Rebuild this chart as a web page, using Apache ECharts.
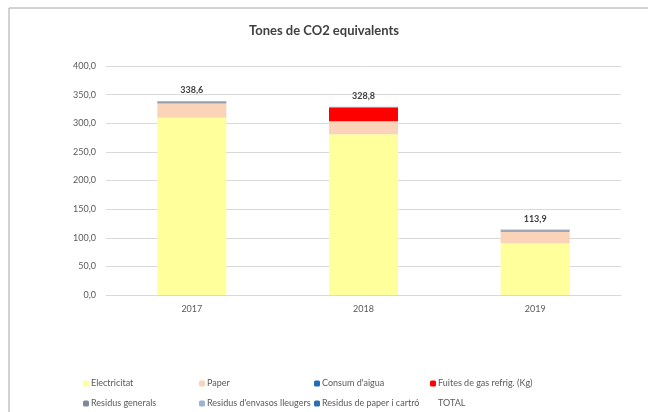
<!DOCTYPE html>
<html>
<head>
<meta charset="utf-8">
<script src="https://cdn.jsdelivr.net/npm/echarts@6/dist/echarts.min.js"></script>
<style>
  html, body { margin: 0; padding: 0; background: #fff; }
  #chart { width: 648px; height: 412px; }
</style>
</head>
<body>
<div id="chart"></div>
<script>
// dades llegides del gràfic
const years = ['2017', '2018', '2019'];
const electricitat = [309.5, 281.0, 90.3];
const paper = [25.6, 22.5, 20.6];
const consumAigua = [0.8, 0.6, 0.7];
const fuitesGas = [0, 23.5, 0];
const residusGenerals = [1.5, 0.9, 1.6];
const residusEnvasos = [0.5, 0.2, 0.4];
const residusPaper = [0.7, 0.1, 0.3];
const totals = [338.6, 328.8, 113.9];
const yTicks = { min: 0, max: 400, interval: 50 };

const fmt = v => Number(v).toFixed(1).replace('.', ',');
const font = 'Lato, "Liberation Sans", sans-serif';

// sèries apilades: nom, valors, color
const stacked = [
  ['Electricitat', electricitat, '#FFFF9B'],
  ['Paper', paper, '#FAD3B8'],
  ["Consum d'aigua", consumAigua, '#1F6FB8'],
  ['Fuites de gas refrig. (Kg)', fuitesGas, '#FF0000'],
  ['Residus generals', residusGenerals, '#7F8A99'],
  ["Residus d'envasos lleugers", residusEnvasos, '#9DB3D6'],
  ['Residus de paper i cartró', residusPaper, '#2E6FB0'],
];

const series = stacked.map(([name, data, color]) => ({
  name,
  type: 'bar',
  stack: 'co2',
  data,
  barWidth: 69,
  itemStyle: { color },
  emphasis: { disabled: true },
}));

// TOTAL: només etiqueta a sobre de la barra
series.push({
  name: 'TOTAL',
  type: 'line',
  data: totals,
  symbol: 'circle',
  symbolSize: 1,
  itemStyle: { color: 'rgba(0,0,0,0)' },
  lineStyle: { width: 0, opacity: 0 },
  label: {
    show: true,
    position: 'top',
    distance: 6,
    formatter: p => fmt(p.value),
    fontFamily: font,
    fontSize: 9,
    fontWeight: 'bold',
    color: '#404040',
  },
});

// posició de cada element de la llegenda (4 columnes, 2 files)
const legendNames = stacked.map(s => s[0]).concat(['TOTAL']);
const legendCols = [83, 199, 314, 430];
const legendRows = [379, 399];
const legends = legendNames.map((name, i) => ({
  data: [name === 'TOTAL' ? { name, icon: 'none' } : name],
  left: legendCols[i % 4],
  top: legendRows[Math.floor(i / 4)],
  itemWidth: 6,
  itemHeight: 6,
  itemGap: 0,
  padding: 0,
  selectedMode: false,
  textStyle: { fontFamily: font, fontSize: 9, color: '#595959', padding: [0, 0, 0, -3] },
}));

const chart = echarts.init(document.getElementById('chart'), null, { renderer: 'canvas' });
chart.setOption({
  animation: false,
  backgroundColor: '#fff',
  title: {
    text: 'Tones de CO2 equivalents',
    left: 'center',
    top: 19,
    textStyle: { fontFamily: font, fontSize: 13, fontWeight: 'bold', color: '#404040' },
  },
  graphic: [{
    type: 'rect',
    shape: { x: 9, y: 8, width: 700, height: 500 },
    style: { fill: 'none', stroke: '#a6a6a6', lineWidth: 1 },
    silent: true,
    z: -1,
  }],
  legend: legends,
  grid: { left: 106, right: 27, top: 66, bottom: 117 },
  xAxis: {
    type: 'category',
    data: years,
    axisTick: { show: false },
    axisLine: { lineStyle: { color: '#d9d9d9' } },
    axisLabel: { fontFamily: font, fontSize: 9, color: '#595959', margin: 10 },
  },
  yAxis: {
    type: 'value',
    min: yTicks.min,
    max: yTicks.max,
    interval: yTicks.interval,
    axisLine: { show: false },
    axisTick: { show: false },
    splitLine: { lineStyle: { color: '#d9d9d9' } },
    axisLabel: { fontFamily: font, fontSize: 9, color: '#595959', margin: 10, formatter: fmt },
  },
  series,
});
</script>
</body>
</html>
